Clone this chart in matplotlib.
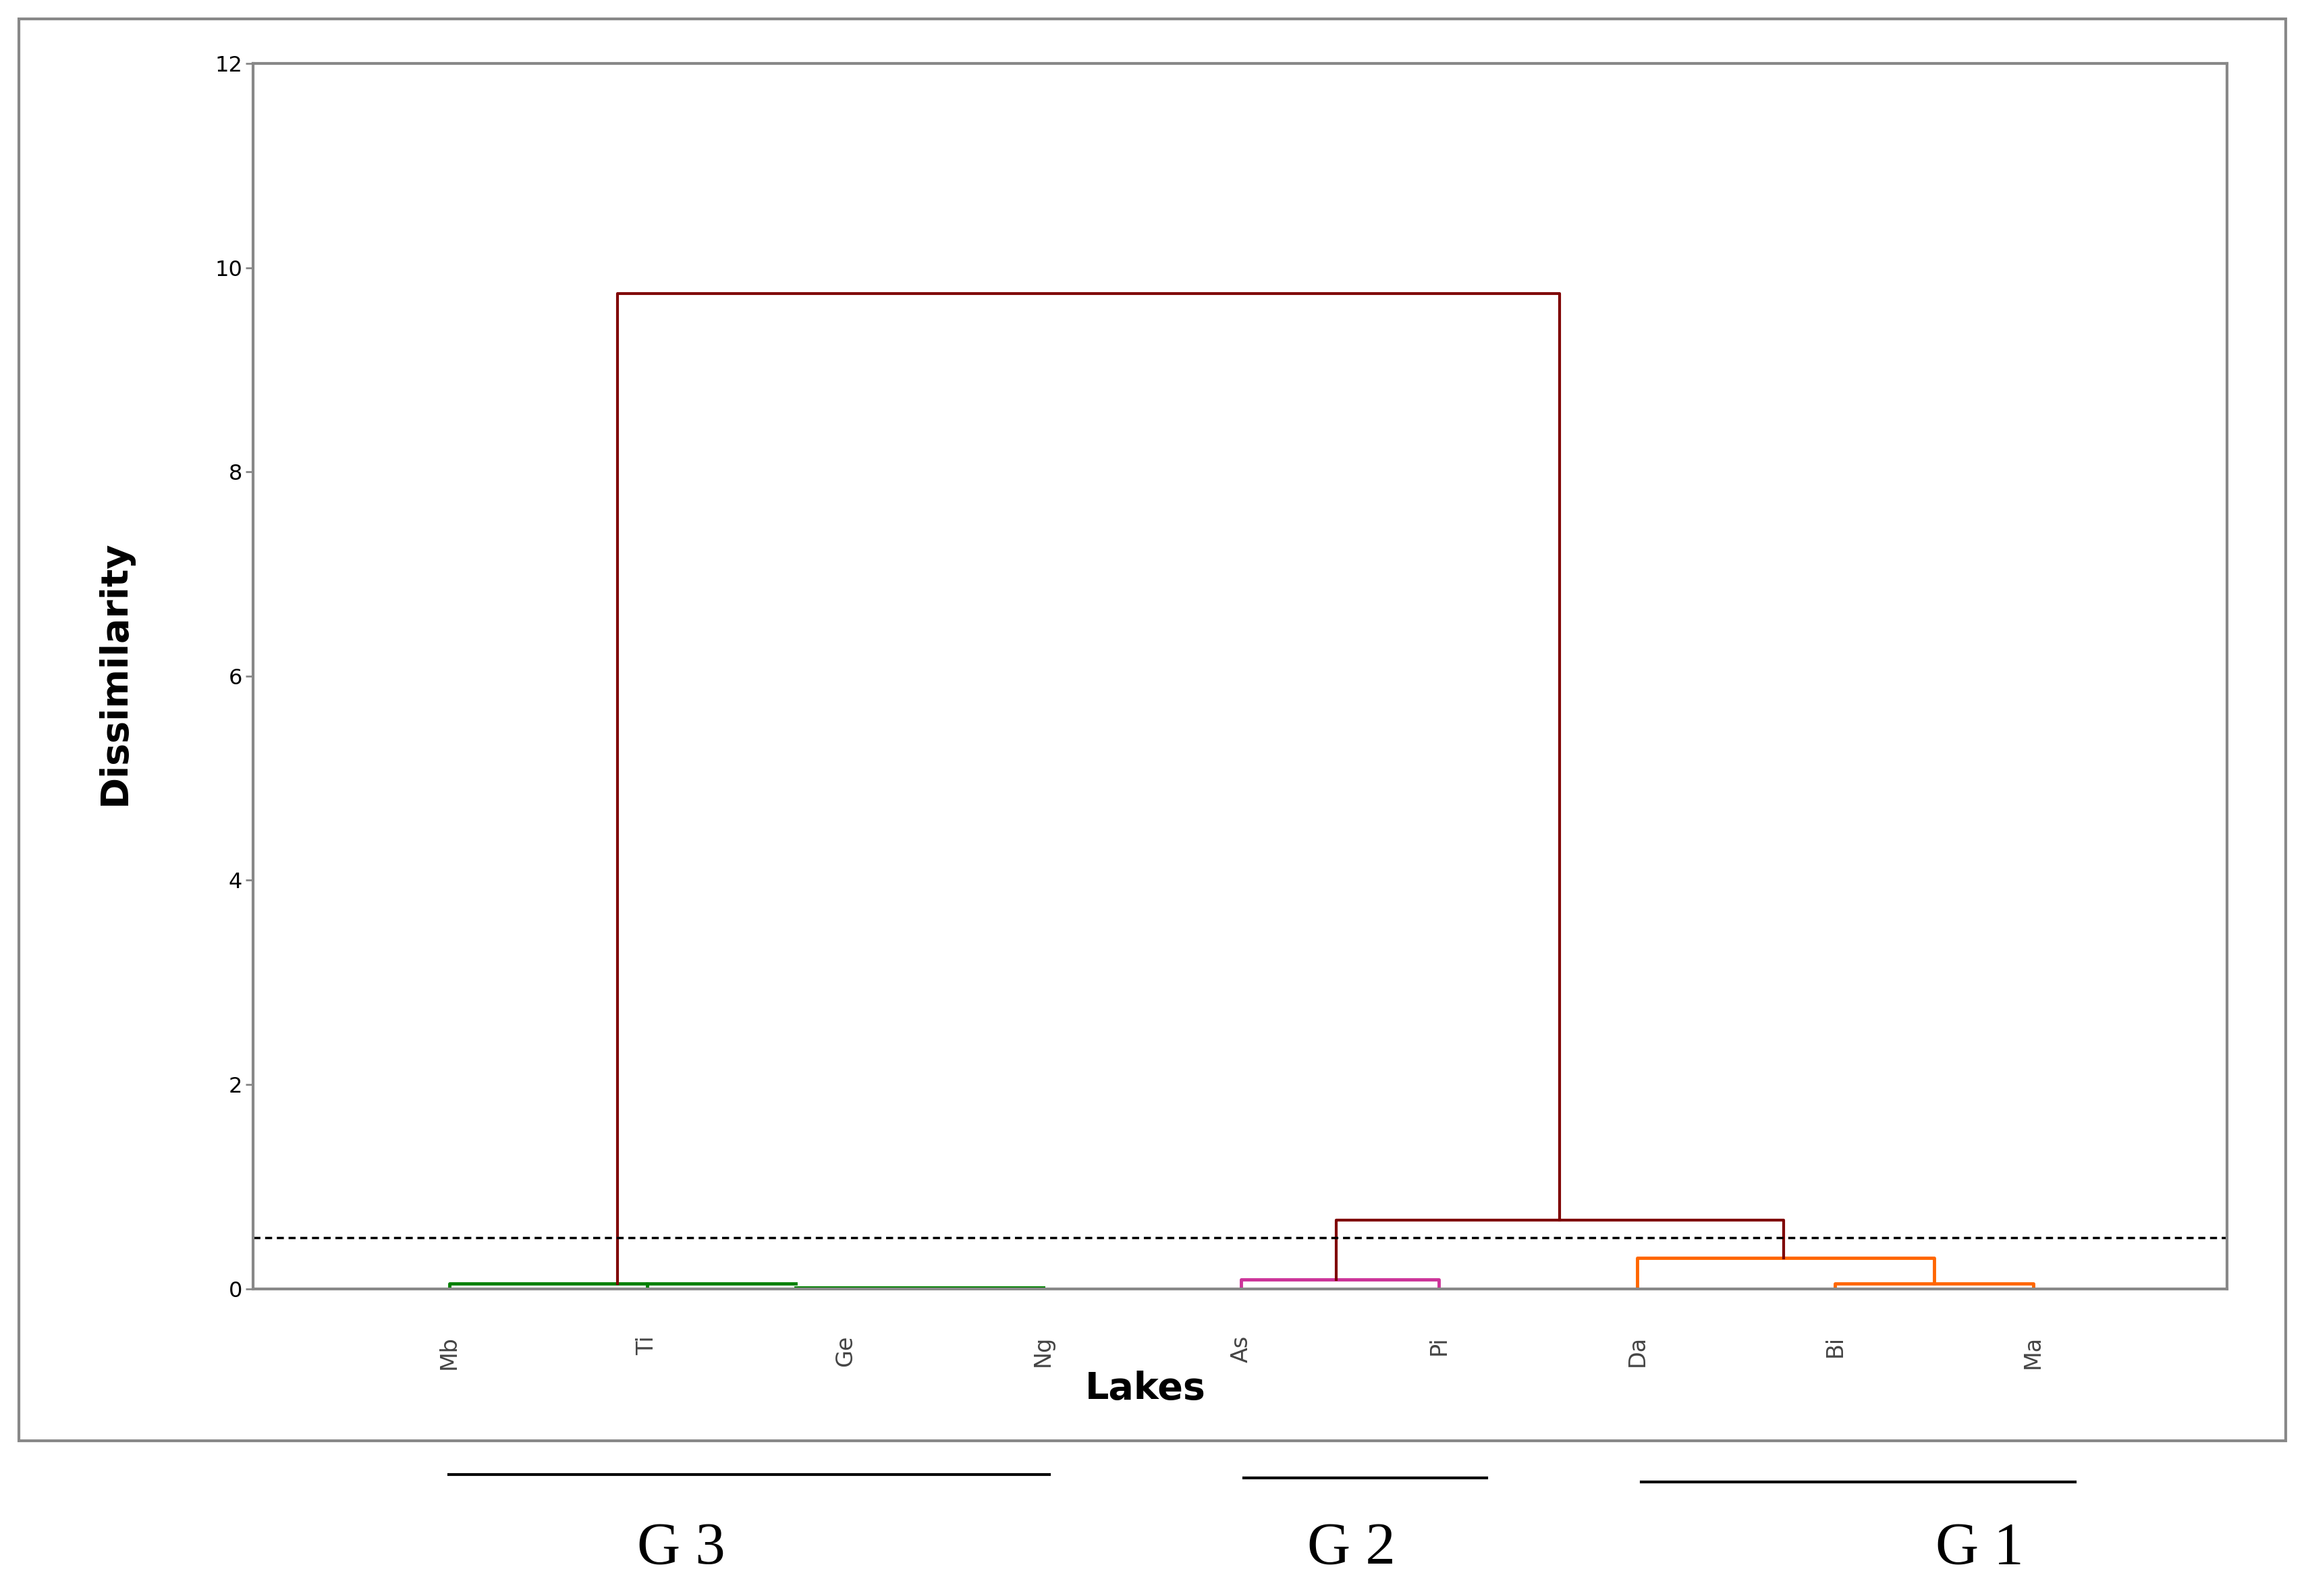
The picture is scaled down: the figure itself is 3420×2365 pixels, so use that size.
import matplotlib
matplotlib.use("Agg")
import matplotlib.pyplot as plt
from matplotlib.patches import Rectangle
from matplotlib.lines import Line2D

lakes = ["Mb", "Ti", "Ge", "Ng", "As", "Pi", "Da", "Bi", "Ma"]
# link segments: (x list, y list, color)
links_x = [[0, 0, 1, 1], [1, 1.75], [1.75, 3], [4, 4, 5, 5], [7, 7, 8, 8], [6, 6, 7.5, 7.5],
           [4.48, 4.48, 6.74, 6.74], [0.85, 0.85, 5.61, 5.61]]
links_y = [[0, 0.05, 0.05, 0], [0.05, 0.05], [0.01, 0.01], [0, 0.09, 0.09, 0], [0, 0.05, 0.05, 0],
           [0, 0.3, 0.3, 0.05], [0.09, 0.67, 0.67, 0.3], [0.05, 9.75, 9.75, 0.67]]
link_colors = ["#008000", "#008000", "#008000", "#cc3399", "#ff6600", "#ff6600", "#7f0000", "#7f0000"]
cut_level = 0.5
groups = ["G 3", "G 2", "G 1"]

W, H = 1568, 1080
fig = plt.figure(figsize=(34.2, 23.65), dpi=100)
fig.patches.append(Rectangle((13/W, 1-975/H), 1540/W, 962/H, transform=fig.transFigure,
                             fill=False, edgecolor="#888888", lw=3))
ax = fig.add_axes([172/W, 1-872/H, (1513-172)/W, (872-43)/H])
for xs, ys, c in zip(links_x, links_y, link_colors):
    ax.plot(xs, ys, color=c, lw=3.5 if c != "#7f0000" else 3)
ax.axhline(cut_level, color="black", ls=(0, (3, 2)), lw=2.5)
ax.set_xlim(-0.99, 8.98)
ax.set_ylim(0, 12)
ax.set_yticks(range(0, 13, 2))
ax.set_xticks(range(len(lakes)))
ax.set_xticklabels(lakes, rotation=90, fontsize=24, color="#444444", va="top")
ax.tick_params(axis="x", length=0, pad=50)
ax.tick_params(axis="y", labelsize=23, length=8, width=2, color="#888888")
for s in ax.spines.values():
    s.set_color("#888888"); s.set_linewidth(3)
fig.text(78/W, 1-455/H, "Dissimilarity", fontsize=40, fontweight="bold", rotation=90,
         ha="center", va="center")
fig.text(778/W, 1-940/H, "Lakes", fontsize=40, fontweight="bold", ha="center", va="center")

gl = [(305, 713, 998, 463), (845, 1010, 1000, 918), (1115, 1410, 1003, 1345)]
for g, (x0, x1, y, xc) in zip(groups, gl):
    fig.add_artist(Line2D([x0/W, x1/W], [1-y/H]*2, color="black", lw=3, transform=fig.transFigure))
    fig.text(xc/W, 1-1048/H, g, fontsize=64, family="Liberation Serif", ha="center", va="center")
fig.savefig("out.png", dpi=100)
